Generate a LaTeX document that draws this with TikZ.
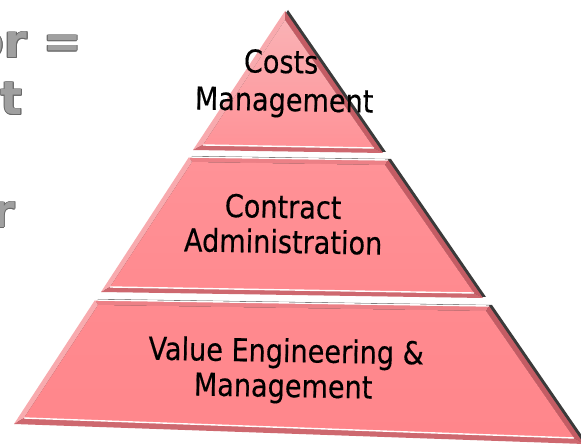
\documentclass[tikz,border=0pt]{standalone}
\usepackage{fontspec}
\setmainfont{DejaVu Sans}[FakeStretch=0.86, FakeBold=0.35]
\newfontfamily\sidefont{DejaVu Sans}
\definecolor{pinkA}{RGB}{250,178,181}
\definecolor{pinkB}{RGB}{255,146,151}
\definecolor{pinkC}{RGB}{255,138,143}
\definecolor{pinkD}{RGB}{255,134,139}
\definecolor{bevlight}{RGB}{248,170,174}
\definecolor{bevtop}{RGB}{236,128,134}
\definecolor{bevdark}{RGB}{196,92,100}
\definecolor{bevbottom}{RGB}{206,104,111}
\definecolor{shadowgray}{RGB}{58,58,58}
\definecolor{sidegray}{RGB}{160,160,160}
\definecolor{sideedge}{RGB}{105,105,105}
\tikzset{
  lbl/.style={font=\fontsize{31.5}{35}\selectfont, inner sep=0pt, anchor=base, rotate=-1, text=black},
  sidetxt/.style={font=\sidefont\bfseries\fontsize{46}{50}\selectfont, inner sep=0pt, anchor=base east, text=sidegray},
  sideout/.style={sidetxt, text=sideedge},
  shadowfill/.style={fill=shadowgray},
  whiteline/.style={draw=white, line width=1.4pt},
}
\begin{document}
\begin{tikzpicture}[x=1pt,y=-1pt]
\useasboundingbox (0,0) rectangle (581,446);
\clip (0,0) rectangle (581,446);
\fill[white] (0,0) rectangle (581,446);

% ---- left clipped title text (outlined grey) ----
\foreach \dx/\dy [count=\k] in {-0.9/0,0.9/0,0/-0.9,0/0.9,-0.65/-0.65,0.65/0.65,-0.65/0.65,0.65/-0.65}{
  \node[sideout] (s1o\k) at (82+\dx,58+\dy) {or =};
  \node[sideout] (s2o\k) at (23+\dx,115+\dy) {nt};
  \node[sideout] (s3o\k) at (15+\dx,228+\dy) {r};
}
\node[sidetxt] (s1) at (82,58) {or =};
\node[sidetxt] (s2) at (23,115) {nt};
\node[sidetxt] (s3) at (15,228) {r};

% ---- coordinates ----
% top layer
\coordinate (A) at (285,11);  \coordinate (TR) at (383,153); \coordinate (TL) at (193,150);
\coordinate (a) at (285,20);  \coordinate (tr) at (374,148); \coordinate (tl) at (203,145);
% middle layer
\coordinate (M1) at (189,157); \coordinate (M2) at (388,160); \coordinate (M3) at (483,298); \coordinate (M4) at (101,292);
\coordinate (m1) at (192,162); \coordinate (m2) at (385,165); \coordinate (m3) at (474,293); \coordinate (m4) at (110,287);
% bottom layer
\coordinate (B1) at (95,300); \coordinate (B2) at (489,306); \coordinate (B3) at (584,444); \coordinate (B4) at (14,424);
\coordinate (b1) at (98,305); \coordinate (b2) at (486,311); \coordinate (b3) at (574,438); \coordinate (b4) at (24,418);

% ---- shadows (right edge) ----
\begin{scope}[xshift=3pt, yshift=1pt]
  \fill[shadowfill] (285,11) -- (383,153) -- (193,150) -- cycle;
  \fill[shadowfill] (189,157) -- (388,160) -- (483,298) -- (101,292) -- cycle;
  \fill[shadowfill] (95,300) -- (489,306) -- (584,444) -- (14,424) -- cycle;
\end{scope}

% ---- top layer ----
\fill[bevlight] (A) -- (TL) -- (tl) -- (a) -- cycle;
\fill[bevdark] (A) -- (TR) -- (tr) -- (a) -- cycle;
\fill[bevbottom] (TL) -- (TR) -- (tr) -- (tl) -- cycle;
\shade[top color=pinkA, bottom color=pinkB] (a) -- (tr) -- (tl) -- cycle;
\draw[whiteline] (tl) -- (tr);

% ---- middle layer ----
\fill[bevtop] (M1) -- (M2) -- (m2) -- (m1) -- cycle;
\fill[bevlight] (M1) -- (M4) -- (m4) -- (m1) -- cycle;
\fill[bevdark] (M2) -- (M3) -- (m3) -- (m2) -- cycle;
\fill[bevbottom] (M4) -- (M3) -- (m3) -- (m4) -- cycle;
\shade[top color=pinkB, bottom color=pinkC] (m1) -- (m2) -- (m3) -- (m4) -- cycle;
\draw[whiteline] (M1) -- (M2);
\draw[whiteline] (m4) -- (m3);

% ---- bottom layer ----
\fill[bevtop] (B1) -- (B2) -- (b2) -- (b1) -- cycle;
\fill[bevlight] (B1) -- (B4) -- (b4) -- (b1) -- cycle;
\fill[bevdark] (B2) -- (B3) -- (b3) -- (b2) -- cycle;
\fill[bevbottom] (B4) -- (B3) -- (b3) -- (b4) -- cycle;
\shade[top color=pinkC, bottom color=pinkD] (b1) -- (b2) -- (b3) -- (b4) -- cycle;
\draw[whiteline] (B1) -- (B2);
\draw[whiteline] (b4) -- (b3);

% ---- labels ----
\node[lbl] (c1) at (281,73) {Costs};
\node[lbl] (c2) at (284,111) {Management};
\node[lbl] (d1) at (283,218) {Contract};
\node[lbl] (d2) at (283,253) {Administration};
\node[lbl] (e1) at (286,362) {Value Engineering \&};
\node[lbl] (e2) at (283,397) {Management};
\end{tikzpicture}
\end{document}
